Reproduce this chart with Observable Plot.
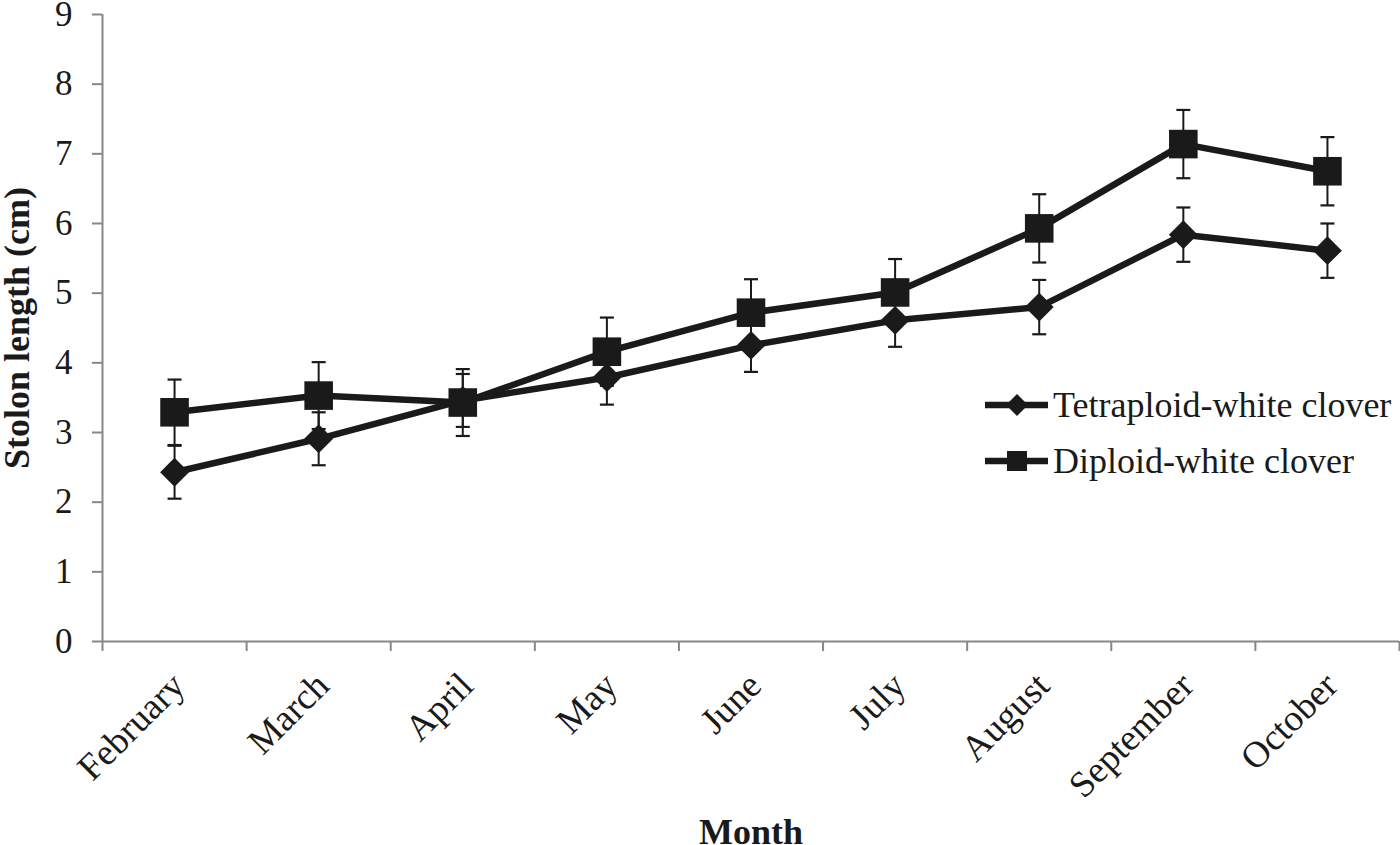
<!DOCTYPE html>
<html>
<head>
<meta charset="utf-8">
<script src="https://cdn.jsdelivr.net/npm/d3@7"></script>
<script src="https://cdn.jsdelivr.net/npm/@observablehq/plot@0.6"></script>
<style>
  body { margin: 0; background: #fff; }
  #wrap { position: relative; width: 1400px; height: 845px; background: #fff; }
  #legend { position: absolute; left: 0; top: 0; pointer-events: none; }
</style>
</head>
<body>
<div id="wrap"></div>
<script>
// ---- data ----
const months = ["February", "March", "April", "May", "June", "July", "August", "September", "October"];
const seriesNames = ["Tetraploid-white clover", "Diploid-white clover"];
const tetraploid    = [2.43, 2.91, 3.46, 3.79, 4.25, 4.61, 4.80, 5.84, 5.61];
const tetraploidErr = [0.38, 0.38, 0.38, 0.39, 0.38, 0.38, 0.39, 0.39, 0.39];
const diploid       = [3.29, 3.53, 3.43, 4.16, 4.72, 5.01, 5.93, 7.14, 6.75];
const diploidErr    = [0.47, 0.48, 0.48, 0.49, 0.48, 0.48, 0.49, 0.49, 0.49];
const yTicks = [0, 1, 2, 3, 4, 5, 6, 7, 8, 9];
const xLabel = "Month";
const yLabel = "Stolon length (cm)";

// ---- table ----
const tetraRows = months.map((m, i) => ({i, month: m, series: seriesNames[0], value: tetraploid[i], err: tetraploidErr[i]}));
const diploRows = months.map((m, i) => ({i, month: m, series: seriesNames[1], value: diploid[i], err: diploidErr[i]}));
const rows = tetraRows.concat(diploRows);

const ink = "#1a1a1a";
const axisGray = "#878787";
const font = "'Liberation Serif', 'Times New Roman', Times, serif";
const cap = {draw(c) { c.moveTo(-7, 0); c.lineTo(7, 0); }};
const idx = months.map((_, i) => i);
const bounds = d3.range(months.length + 1).map(i => i - 0.5);

const chart = Plot.plot({
  width: 1400,
  height: 845,
  marginLeft: 102,
  marginRight: 1,
  marginTop: 14,
  marginBottom: 204,
  style: {fontFamily: font, fontSize: "35px", color: ink, background: "#fff", overflow: "visible"},
  x: {domain: [-0.5, months.length - 0.5]},
  y: {domain: [0, 9]},
  marks: [
    Plot.axisY({ticks: yTicks, tickSize: 10, tickPadding: 20, stroke: axisGray, strokeWidth: 2, fill: ink, fontSize: 35, label: null}),
    Plot.axisX({ticks: bounds, tickSize: 10, tickFormat: () => "", stroke: axisGray, strokeWidth: 2, label: null}),
    Plot.axisX({ticks: idx, tickSize: 0, tickFormat: i => months[i], tickRotate: -45, tickPadding: 38, dx: 4, fill: ink, fontSize: 37, label: null}),
    Plot.ruleY([0], {stroke: axisGray, strokeWidth: 2}),
    Plot.ruleX([-0.5], {stroke: axisGray, strokeWidth: 2}),
    Plot.text([yLabel], {text: d => d, frameAnchor: "left", textAnchor: "middle", rotate: -90, dx: -85, fontWeight: "bold", fontSize: 36, fill: ink}),
    Plot.text([xLabel], {text: d => d, frameAnchor: "bottom", dy: 202, lineAnchor: "bottom", fontWeight: "bold", fontSize: 36, fill: ink}),
    Plot.line(rows, {x: "i", y: "value", z: "series", stroke: ink, strokeWidth: 6.5}),
    Plot.ruleX(rows, {x: "i", y1: d => d.value - d.err, y2: d => d.value + d.err, stroke: ink, strokeWidth: 2}),
    Plot.dot(rows, {x: "i", y: d => d.value + d.err, symbol: cap, stroke: ink, strokeWidth: 2.2}),
    Plot.dot(rows, {x: "i", y: d => d.value - d.err, symbol: cap, stroke: ink, strokeWidth: 2.2}),
    Plot.dot(tetraRows, {x: "i", y: "value", symbol: "diamond2", r: 13, fill: ink, stroke: "none"}),
    Plot.dot(diploRows, {x: "i", y: "value", symbol: "square2", r: 18.2, fill: ink, stroke: "none"})
  ]
});

const wrap = document.getElementById("wrap");
wrap.appendChild(chart);

// ---- legend (inside plot area, right side) ----
const ns = "http://www.w3.org/2000/svg";
const leg = document.createElementNS(ns, "svg");
leg.setAttribute("id", "legend");
leg.setAttribute("width", 1400);
leg.setAttribute("height", 845);
const items = [
  {name: seriesNames[0], y: 405, shape: "diamond"},
  {name: seriesNames[1], y: 461, shape: "square"}
];
items.forEach(it => {
  const line = document.createElementNS(ns, "line");
  line.setAttribute("x1", 985); line.setAttribute("x2", 1048);
  line.setAttribute("y1", it.y); line.setAttribute("y2", it.y);
  line.setAttribute("stroke", ink); line.setAttribute("stroke-width", 6.5);
  leg.appendChild(line);
  const p = document.createElementNS(ns, "path");
  if (it.shape === "diamond") {
    const r = 11;
    p.setAttribute("d", `M1017,${it.y - r}L${1017 + r},${it.y}L1017,${it.y + r}L${1017 - r},${it.y}Z`);
  } else {
    const h = 10;
    p.setAttribute("d", `M${1017 - h},${it.y - h}h${2 * h}v${2 * h}h${-2 * h}Z`);
  }
  p.setAttribute("fill", ink);
  leg.appendChild(p);
  const t = document.createElementNS(ns, "text");
  t.setAttribute("x", 1053); t.setAttribute("y", it.y + 12);
  t.setAttribute("font-family", font); t.setAttribute("font-size", 36);
  t.setAttribute("fill", ink);
  t.textContent = it.name;
  leg.appendChild(t);
});
wrap.appendChild(leg);
</script>
</body>
</html>
